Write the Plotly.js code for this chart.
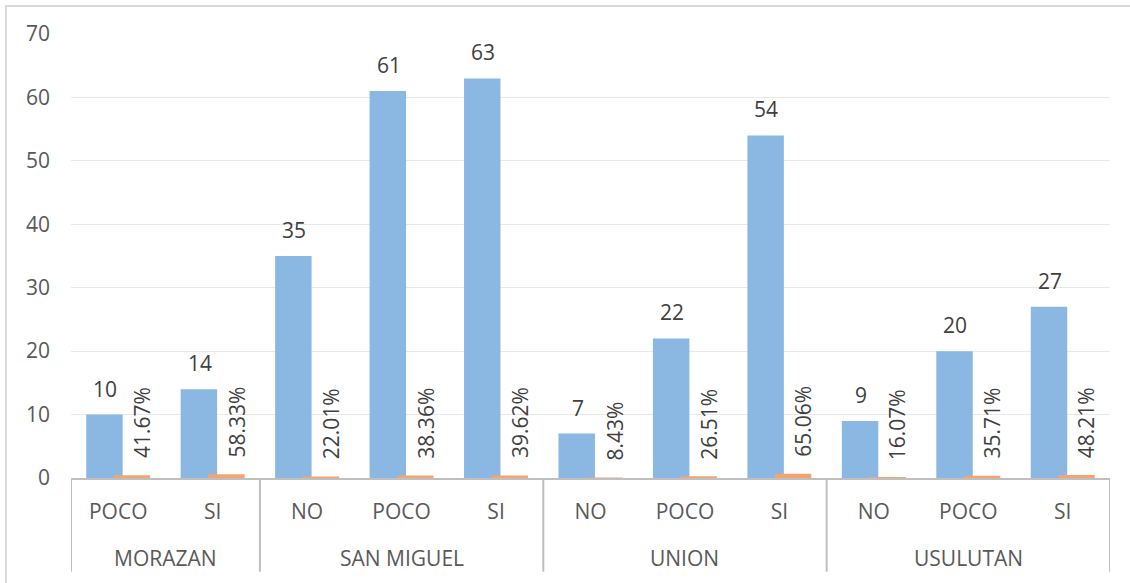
<!DOCTYPE html>
<html>
<head>
<meta charset="utf-8">
<script src="https://cdn.plot.ly/plotly-3.0.1.min.js"></script>
<style>
  html, body { margin: 0; padding: 0; background: #fff; }
  #frame { position: absolute; left: 5px; top: 5px; width: 1140px; height: 600px; border: 2px solid #D9D9D9; box-sizing: border-box; }
  #chart { position: absolute; left: 0; top: 0; width: 1130px; height: 583px; }
</style>
</head>
<body>
<div id="frame"></div>
<div id="chart"></div>
<script>
const groups = ["MORAZAN", "MORAZAN", "SAN MIGUEL", "SAN MIGUEL", "SAN MIGUEL", "UNION", "UNION", "UNION", "USULUTAN", "USULUTAN", "USULUTAN"];
const answers = ["POCO", "SI", "NO", "POCO", "SI", "NO", "POCO", "SI", "NO", "POCO", "SI"];
const counts = [10, 14, 35, 61, 63, 7, 22, 54, 9, 20, 27];
const shares = [0.4167, 0.5833, 0.2201, 0.3836, 0.3962, 0.0843, 0.2651, 0.6506, 0.1607, 0.3571, 0.4821];
const shareLabels = ["41.67%", "58.33%", "22.01%", "38.36%", "39.62%", "8.43%", "26.51%", "65.06%", "16.07%", "35.71%", "48.21%"];

const FONT = "Open Sans, Noto Sans, sans-serif";
const FS = 21;
const TXT = "#404040";
const AX = "#595959";
const LINE = "#BFBFBF";

// bar geometry (fraction of a category slot): slightly overlapping pair, as in Excel
const BAR_W = 0.386;
const BLUE_OFF = -0.339;
const ORANGE_OFF = -0.048;

// one category per (group, answer) pair, labelled with the answer
const cats = groups.map((g, i) => g + " | " + answers[i]);

const traces = [
  {
    type: "bar", name: "Frecuencia",
    x: cats, y: counts,
    width: BAR_W, offset: BLUE_OFF,
    marker: { color: "#8BB8E2" },
    hoverinfo: "skip"
  },
  {
    type: "bar", name: "Porcentaje",
    x: cats, y: shares,
    width: BAR_W, offset: ORANGE_OFF,
    marker: { color: "#F4A46E" },
    hoverinfo: "skip"
  }
];

const annotations = [];
counts.forEach((v, i) => {
  annotations.push({
    x: cats[i], y: v, xref: "x", yref: "y",
    text: String(v), showarrow: false,
    xanchor: "center", yanchor: "bottom",
    xshift: -13, yshift: 10,
    font: { family: FONT, size: FS, color: TXT }
  });
});
shares.forEach((v, i) => {
  annotations.push({
    x: cats[i], y: v, xref: "x", yref: "y",
    text: shareLabels[i], showarrow: false, textangle: -90,
    xanchor: "center", yanchor: "bottom",
    xshift: 24, yshift: 15,
    font: { family: FONT, size: FS, color: TXT }
  });
});

// group labels and dividers
const shapes = [];
const uniqueGroups = [...new Set(groups)];
uniqueGroups.forEach(g => {
  const idx = groups.map((v, i) => v === g ? i : -1).filter(i => i >= 0);
  const first = idx[0], last = idx[idx.length - 1];
  annotations.push({
    x: (first + last) / 2, y: 0, xref: "x", yref: "paper",
    text: g, showarrow: false, xanchor: "center", yanchor: "top",
    yshift: -64,
    font: { family: FONT, size: FS, color: AX }
  });
  shapes.push({
    type: "line", xref: "x", yref: "paper",
    x0: first - 0.5, x1: first - 0.5, y0: 0, y1: -0.211,
    line: { color: LINE, width: 2 }
  });
  if (g === uniqueGroups[uniqueGroups.length - 1]) {
    shapes.push({
      type: "line", xref: "x", yref: "paper",
      x0: last + 0.5, x1: last + 0.5, y0: 0, y1: -0.211,
      line: { color: LINE, width: 2 }
    });
  }
});

const layout = {
  width: 1130, height: 583,
  margin: { l: 71, r: 20, t: 34, b: 105 },
  paper_bgcolor: "rgba(0,0,0,0)",
  plot_bgcolor: "#fff",
  showlegend: false,
  barmode: "overlay",
  font: { family: FONT, size: FS, color: AX },
  xaxis: {
    type: "category",
    categoryorder: "array", categoryarray: cats,
    tickmode: "array", tickvals: cats, ticktext: answers,
    range: [-0.5, cats.length - 0.5],
    showline: true, linecolor: LINE, linewidth: 2,
    ticks: "", showgrid: false,
    ticklabelstandoff: 14,
    tickfont: { family: FONT, size: FS, color: AX }
  },
  yaxis: {
    range: [0, 70], dtick: 10, tick0: 0,
    showgrid: true, gridcolor: "#E9E9E9", gridwidth: 1,
    zeroline: false, showline: false, ticks: "",
    ticklabelstandoff: 20,
    tickfont: { family: FONT, size: FS, color: AX }
  },
  annotations: annotations,
  shapes: shapes
};

Plotly.newPlot("chart", traces, layout, { displayModeBar: false, staticPlot: true });
</script>
</body>
</html>
